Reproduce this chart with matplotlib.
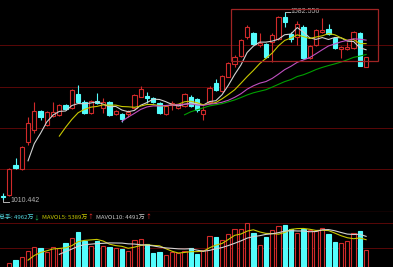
import numpy as np
import pandas as pd
import matplotlib
matplotlib.use("Agg")
import matplotlib.pyplot as plt
from matplotlib.patches import Rectangle

# === 1. Datos ===
opens = [1022.6, 1025.6, 1116.9, 1103.8, 1187.8, 1223.4, 1281.2, 1238.6, 1266.0, 1269.1,
         1298.6, 1289.5, 1332.1, 1307.7, 1276.1, 1311.7, 1289.5, 1309.5, 1271.2, 1271.2,
         1271.2, 1289.5, 1324.8, 1327.8, 1319.9, 1304.7, 1271.2, 1299.5, 1289.5, 1295.5,
         1324.8, 1316.9, 1270.6, 1308.6, 1367.4, 1342.1, 1386.2, 1424.3, 1447.1, 1506.4,
         1517.7, 1482.1, 1484.2, 1492.1, 1499.4, 1566.4, 1514.6, 1505.5, 1537.8, 1443.4,
         1482.1, 1520.7, 1530.8, 1504.3, 1469.0, 1469.9, 1472.0, 1517.7, 1416.0]
highs = [1031.7, 1107.8, 1138.2, 1174.7, 1263.0, 1309.5, 1284.3, 1281.2, 1309.5, 1302.5,
         1302.5, 1348.2, 1360.4, 1314.7, 1314.7, 1336.9, 1319.9, 1311.7, 1284.3, 1275.1,
         1284.3, 1333.0, 1357.3, 1339.1, 1323.9, 1308.6, 1299.5, 1311.7, 1302.5, 1336.0,
         1329.9, 1320.8, 1296.4, 1357.3, 1377.7, 1390.8, 1430.3, 1451.6, 1500.3, 1542.9,
         1521.6, 1517.7, 1488.2, 1518.6, 1570.3, 1582.556, 1522.6, 1556.0, 1542.9, 1482.1,
         1530.8, 1563.3, 1545.1, 1506.4, 1479.0, 1492.1, 1524.7, 1521.6, 1445.5]
lows = [1010.442, 1022.6, 1104.8, 1101.7, 1177.8, 1214.3, 1253.9, 1235.6, 1263.0, 1266.0,
        1284.3, 1287.3, 1308.6, 1272.1, 1272.1, 1302.5, 1275.1, 1266.0, 1269.1, 1248.7,
        1263.0, 1287.3, 1323.9, 1305.6, 1305.6, 1272.1, 1269.1, 1284.3, 1287.3, 1293.4,
        1293.4, 1278.2, 1253.9, 1305.6, 1342.1, 1339.1, 1384.7, 1416.0, 1445.5, 1500.3,
        1482.1, 1476.9, 1442.5, 1431.2, 1497.3, 1537.8, 1492.1, 1482.1, 1439.5, 1439.5,
        1479.0, 1517.7, 1512.5, 1469.9, 1441.6, 1466.9, 1469.9, 1418.2, 1415.1]
closes = [1019.5, 1104.8, 1106.9, 1172.6, 1244.7, 1281.2, 1262.1, 1279.1, 1278.2, 1299.5,
          1287.3, 1345.2, 1309.5, 1274.2, 1311.7, 1304.7, 1309.5, 1269.1, 1281.2, 1256.0,
          1279.1, 1329.9, 1347.3, 1322.3, 1307.7, 1274.2, 1296.4, 1304.7, 1299.5, 1332.1,
          1296.4, 1284.3, 1284.3, 1352.7, 1345.2, 1387.7, 1428.2, 1446.5, 1497.3, 1536.8,
          1484.5, 1489.1, 1446.5, 1512.5, 1566.4, 1552.1, 1499.4, 1545.1, 1443.4, 1479.9,
          1527.7, 1527.7, 1515.5, 1473.9, 1475.1, 1476.9, 1522.6, 1419.1, 1444.6]
# volumen en 万手
volumes = [460, 2001, 2760, 3519, 4899, 5819, 5451, 4669, 5681, 5451,
           6601, 7889, 9269, 7130, 6049, 7130, 6049, 5681, 5451, 5221,
           4899, 7360, 7590, 6371, 4301, 4531, 4025, 4669, 4301, 4945,
           5451, 4094, 5060, 8326, 7981, 7360, 8671, 9821, 9821, 11339,
           8901, 6210, 8119, 9660, 10580, 10810, 9821, 9039, 9821, 9660,
           9430, 10051, 8671, 6969, 6601, 7130, 8901, 9499, 5060]

ma_windows = [5, 10, 20, 30]
ma_colors = ["#d2d2d2", "#c8c800", "#c050c0", "#00a000"]
vol_windows = [5, 10]
vol_ma_colors = ["#c8c800", "#d2d2d2"]
vol_texts = ["总手: 4962万", "↓", "MAVOL5: 5389万", "↑", "MAVOL10: 4491万", "↑"]
vol_text_colors = ["#54d8e0", "#20c060", "#c8c800", "#ff3030", "#c8c8c8", "#ff3030"]
vol_text_gap = [0.3, 2.0, 0.3, 2.5, 0.3, 0]

price_grid = [1482.1, 1355.2, 1228.6, 1103.8]
vol_grid = [11270, 5520]
box_x = [36.4, 59.86]
box_y = [1433.4, 1590.7]

RED = "#d02a2a"
CYAN = "#54fcfc"
GRID = "#5a0808"
LABEL = "#b4b4b4"

# === 2. Preparar ===
df = pd.DataFrame({"open": opens, "high": highs, "low": lows,
                   "close": closes, "vol": volumes})
n = len(df)
x = np.arange(n)
up = (df["close"] >= df["open"]).values
body_lo = np.minimum(df["open"], df["close"])
body_h = np.maximum(np.abs(df["close"] - df["open"]), 1.5)

W, H = 393, 267
fig = plt.figure(figsize=(W / 100, H / 100), dpi=100, facecolor="black")
ax = fig.add_axes([0, (H - 211.7) / H, 1, 211.7 / H], facecolor="black")
axv = fig.add_axes([0, 0, 1, 55 / H], facecolor="black")

x0 = -3 / 6.26
x1 = (W - 3) / 6.26
for a in (ax, axv):
    a.set_xlim(x0, x1)
    a.set_xticks([])
    a.set_yticks([])
    for s in a.spines.values():
        s.set_visible(False)
ax.set_ylim(974.8, 1619.0)
axv.set_ylim(1150, 13800)
ax.spines["bottom"].set_visible(True)
ax.spines["bottom"].set_color("#8c1414")
ax.spines["bottom"].set_linewidth(0.9)

for g in price_grid:
    ax.axhline(g, color=GRID, lw=0.7, zorder=0)
for g in vol_grid:
    axv.axhline(g, color=GRID, lw=0.7, zorder=0)

# === 3. Velas ===
cols = np.where(up, RED, CYAN)
ax.vlines(x, df["low"], df["high"], colors=cols, lw=0.8, zorder=2)
ax.bar(x, body_h, bottom=body_lo, width=0.68,
       color=np.where(up, "black", CYAN), edgecolor=cols, lw=0.8, zorder=3)

for w, c in zip(ma_windows, ma_colors):
    ax.plot(x, df["close"].rolling(w).mean(), color=c, lw=0.8, zorder=4)

# máximos y mínimos
ih = int(df["high"].idxmax())
il = int(df["low"].idxmin())
ax.plot([ih, ih + 0.85], [df["high"][ih], df["high"][ih]], color=LABEL, lw=0.7, zorder=5)
ax.text(ih + 0.95, df["high"][ih], f"{df['high'][ih]:.3f}", color=LABEL,
        fontsize=5.0, family="Liberation Sans", va="center", ha="left")
ylow = df["low"][il] - 5
ax.plot([il, il, il + 1.0], [df["low"][il], ylow, ylow], color=LABEL, lw=0.7, zorder=5)
ax.text(il + 1.2, ylow + 2, f"{df['low'][il]:.3f}", color=LABEL,
        fontsize=5.0, family="Liberation Sans", va="center", ha="left")

ax.add_patch(Rectangle((box_x[0], box_y[0]), box_x[1] - box_x[0], box_y[1] - box_y[0],
                       fill=False, edgecolor="#a02424", lw=0.9, zorder=6))

# === 4. Volumen ===
axv.bar(x, df["vol"], width=0.68, color=np.where(up, "black", CYAN),
        edgecolor=cols, lw=0.8, zorder=3)
for w, c in zip(vol_windows, vol_ma_colors):
    axv.plot(x, df["vol"].rolling(w).mean(), color=c, lw=0.8, zorder=4)

# textos encadenados uno detrás del otro
fig.canvas.draw()
renderer = fig.canvas.get_renderer()
xpos = -1.0
for t, c, gap in zip(vol_texts, vol_text_colors, vol_text_gap):
    txt = fig.text(xpos / W, 49.5 / H, t, color=c, fontsize=4.3,
                   family=["Noto Sans CJK SC", "DejaVu Sans"], va="center", ha="left")
    bb = txt.get_window_extent(renderer)
    xpos = bb.x1 + gap

# === 5. Guardar ===
fig.savefig("out.png", dpi=100, facecolor="black")
plt.close(fig)
